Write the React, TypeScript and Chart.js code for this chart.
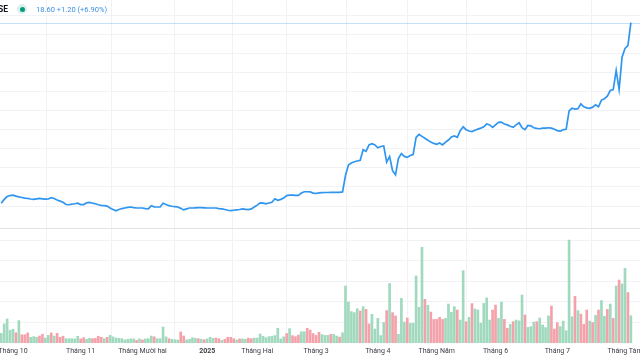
import React, { useEffect, useRef } from 'react';
import { Chart, registerables } from 'chart.js';

Chart.register(...registerables);

// ---- Data (one entry per trading session, index 0 = late Sept 2024, last = early Aug 2025) ----
const prices: number[] = [
  9.15, 9.35, 9.5, 9.55, 9.57, 9.52, 9.48, 9.45, 9.42, 9.4,
  9.37, 9.35, 9.38, 9.4, 9.38, 9.36, 9.37, 9.44, 9.4, 9.32,
  9.26, 9.2, 9.08, 9.07, 9.1, 9.12, 9.15, 9.08, 9.08, 9.17,
  9.19, 9.15, 9.12, 9.07, 9.04, 9.02, 9.0, 8.9, 8.82, 8.75,
  8.82, 8.87, 8.9, 8.93, 8.95, 8.92, 8.9, 8.9, 8.9, 8.87,
  8.85, 9.02, 8.96, 8.95, 8.95, 9.15, 9.08, 9.02, 8.99, 8.97,
  8.95, 8.88, 8.8, 8.85, 8.9, 8.9, 8.91, 8.92, 8.92, 8.91,
  8.9, 8.9, 8.9, 8.9, 8.87, 8.85, 8.82, 8.78, 8.76, 8.78,
  8.8, 8.82, 8.85, 8.83, 8.81, 8.85, 8.95, 9.05, 9.17, 9.15,
  9.12, 9.16, 9.2, 9.38, 9.3, 9.35, 9.42, 9.55, 9.57, 9.57,
  9.56, 9.56, 9.68, 9.75, 9.75, 9.74, 9.68, 9.66, 9.69, 9.7,
  9.71, 9.71, 9.72, 9.72, 9.72, 9.72, 9.74, 10.6, 11.15, 11.25,
  11.32, 11.36, 11.4, 11.95, 11.87, 12.2, 12.27, 12.2, 12.05, 12.12,
  12.15, 11.3, 11.6, 10.85, 10.63, 11.5, 11.75, 11.6, 11.55, 11.65,
  11.7, 12.6, 12.75, 12.65, 12.55, 12.45, 12.35, 12.28, 12.23, 12.3,
  12.2, 12.35, 12.46, 12.62, 12.67, 12.6, 12.95, 13.15, 13.0, 12.93,
  12.9, 12.97, 13.03, 13.08, 13.15, 13.3, 13.25, 13.12, 13.25, 13.38,
  13.4, 13.3, 13.25, 13.18, 13.12, 13.25, 13.36, 13.1, 13.0, 13.22,
  13.2, 13.1, 13.07, 13.05, 13.08, 13.08, 13.1, 13.08, 13.02, 12.95,
  12.92, 13.0, 13.02, 13.98, 14.12, 14.08, 14.1, 14.35, 14.2, 14.14,
  14.12, 14.18, 14.3, 14.2, 14.55, 14.62, 14.75, 15.05, 15.1, 16.1,
  15.1, 16.8, 17.25, 17.4, 18.6,
];

// volume in millions of shares (estimated)
const volumes: number[] = [
  0.47, 0.93, 1.17, 0.62, 0.67, 0.5, 1.09, 0.4, 0.4, 0.49,
  0.28, 0.31, 0.28, 0.34, 0.42, 0.24, 0.37, 0.49, 0.34, 0.47,
  0.28, 0.33, 0.21, 0.21, 0.21, 0.2, 0.33, 0.2, 0.26, 0.18,
  0.23, 0.21, 0.23, 0.33, 0.28, 0.21, 0.28, 0.37, 0.3, 0.24,
  0.23, 0.21, 0.15, 0.18, 0.2, 0.2, 0.13, 0.2, 0.15, 0.2,
  0.21, 0.34, 0.3, 0.21, 0.21, 0.78, 0.3, 0.21, 0.18, 0.16,
  0.15, 0.54, 0.34, 0.15, 0.18, 0.26, 0.23, 0.21, 0.18, 0.16,
  0.2, 0.28, 0.23, 0.24, 0.21, 0.13, 0.18, 0.28, 0.28, 0.21,
  0.15, 0.2, 0.2, 0.18, 0.24, 0.21, 0.24, 0.24, 0.44, 0.33,
  0.26, 0.31, 0.33, 0.36, 0.72, 0.2, 0.3, 0.46, 0.7, 0.36,
  0.31, 0.39, 0.55, 0.55, 0.72, 0.63, 0.46, 0.37, 0.52, 0.41,
  0.37, 0.37, 0.42, 0.42, 0.34, 0.29, 0.5, 2.78, 2.0, 1.53,
  1.48, 1.67, 1.56, 1.77, 1.64, 0.93, 1.4, 0.68, 1.2, 0.36,
  1.0, 1.58, 2.9, 1.48, 1.32, 0.42, 2.18, 1.02, 1.22, 0.96,
  0.96, 3.27, 1.74, 4.67, 2.13, 1.84, 1.51, 1.15, 1.15, 1.25,
  1.15, 1.2, 1.9, 1.5, 1.77, 1.61, 1.12, 3.53, 1.04, 1.25,
  1.92, 1.66, 1.61, 0.96, 1.93, 2.2, 1.12, 1.61, 1.85, 1.2,
  2.0, 1.15, 0.72, 0.91, 1.04, 1.12, 1.08, 2.34, 1.37, 0.76,
  0.8, 1.02, 1.04, 1.22, 0.88, 0.75, 1.32, 1.8, 0.68, 0.99,
  0.8, 1.07, 0.6, 5.02, 1.28, 2.28, 1.58, 1.41, 0.91, 1.61,
  1.07, 1.0, 1.35, 1.61, 2.07, 1.3, 1.64, 1.9, 1.2, 2.78,
  3.07, 2.88, 3.64, 2.46, 1.33,
];

// 1 = up session (green volume), 0 = down session (red volume)
const volumeUp: number[] = [
  1, 1, 1, 1, 1, 0, 1, 0, 0, 0,
  1, 1, 1, 0, 0, 1, 1, 0, 1, 0,
  0, 0, 1, 1, 1, 1, 1, 0, 0, 1,
  1, 0, 0, 0, 0, 1, 0, 1, 1, 1,
  1, 1, 1, 1, 1, 1, 0, 1, 0, 1,
  1, 1, 0, 1, 1, 1, 1, 0, 1, 1,
  1, 0, 0, 1, 1, 1, 1, 0, 1, 0,
  1, 1, 1, 0, 0, 1, 0, 0, 0, 0,
  1, 0, 1, 1, 0, 0, 1, 1, 1, 1,
  1, 1, 1, 1, 1, 1, 1, 0, 1, 0,
  0, 0, 1, 1, 0, 0, 0, 0, 0, 1,
  1, 1, 0, 1, 1, 0, 1, 1, 1, 1,
  1, 1, 0, 1, 0, 0, 1, 1, 1, 1,
  1, 0, 1, 0, 0, 1, 1, 1, 0, 1,
  1, 1, 1, 1, 0, 1, 0, 0, 0, 0,
  0, 1, 1, 1, 1, 0, 1, 1, 0, 1,
  0, 1, 1, 1, 1, 1, 1, 0, 0, 1,
  1, 0, 0, 1, 0, 1, 1, 1, 0, 1,
  1, 1, 0, 1, 1, 1, 1, 0, 0, 0,
  1, 1, 1, 1, 1, 0, 1, 0, 0, 0,
  1, 0, 1, 0, 1, 1, 0, 1, 0, 1,
  0, 1, 1, 0, 1,
];

const monthTickIndex: number[] = [4, 27, 48, 70, 87, 107, 128, 148, 168, 189, 212];
const monthTickLabels: string[] = [
  'Tháng 10', 'Tháng 11', 'Tháng Mười hai', '2025', 'Tháng Hai', 'Tháng 3',
  'Tháng 4', 'Tháng Năm', 'Tháng 6', 'Tháng 7', 'Tháng Tám',
];
const priceGridValues: number[] = [9, 10, 11, 12, 13, 14, 15, 16, 17, 18, 19];
const volumeGridValues: number[] = [1, 2, 3, 4, 5];
const paneSeparatorVolume = 5.59;

const headerSymbol = 'SE';
const headerQuote = '18.60 +1.20 (+6.90%)';

// ---- Styles ----
const LINE_BLUE = '#2f95ef';
const VOL_UP = '#a0d9bd';
const VOL_DOWN = '#f5a1aa';
const GRID = '#f1f2f5';
const FONT = 'Roboto, "Open Sans", sans-serif';

const lastPriceLine = {
  id: 'lastPriceLine',
  beforeDatasetsDraw(chart: any) {
    const { ctx, chartArea, scales } = chart;
    const y = Math.round(scales.yPrice.getPixelForValue(prices[prices.length - 1])) + 0.5;
    ctx.save();
    ctx.strokeStyle = 'rgba(47,149,239,0.28)';
    ctx.lineWidth = 1;
    ctx.beginPath();
    ctx.moveTo(chartArea.left, y);
    ctx.lineTo(chartArea.right, y);
    ctx.stroke();
    ctx.restore();
  },
};

export default function App() {
  const canvasRef = useRef<HTMLCanvasElement | null>(null);

  useEffect(() => {
    if (!canvasRef.current) return;
    const chart = new Chart(canvasRef.current, {
      type: 'bar',
      data: {
        datasets: [
          {
            type: 'line',
            data: prices.map((p, i) => ({ x: i, y: p })),
            yAxisID: 'yPrice',
            borderColor: LINE_BLUE,
            borderWidth: 1.7,
            pointRadius: 0,
            tension: 0,
            order: 0,
          } as any,
          {
            type: 'bar',
            data: volumes.map((v, i) => ({ x: i, y: v })),
            yAxisID: 'yVol',
            backgroundColor: volumeUp.map((u) => (u ? VOL_UP : VOL_DOWN)),
            barThickness: 2,
            order: 1,
          } as any,
        ],
      },
      options: {
        animation: false,
        responsive: false,
        maintainAspectRatio: false,
        layout: { padding: 0, autoPadding: false } as any,
        plugins: { legend: { display: false }, tooltip: { enabled: false } },
        scales: {
          x: {
            type: 'linear',
            min: -0.42,
            max: 217.1,
            offset: false,
            afterBuildTicks: (s: any) => {
              s.ticks = monthTickIndex.map((v) => ({ value: v }));
            },
            afterFit: (s: any) => {
              s.height = 17;
              s.paddingLeft = 0;
              s.paddingRight = 0;
            },
            ticks: {
              autoSkip: false,
              maxRotation: 0,
              padding: 4,
              color: '#3a3d45',
              font: (ctx: any) => ({
                family: FONT,
                size: 7,
                weight: monthTickLabels[ctx.index] === '2025' ? 'bold' : 'normal',
              }),
              callback: (_v: any, i: number) => monthTickLabels[i],
            },
            grid: { color: GRID, drawTicks: false },
            border: { display: false },
          },
          yPrice: {
            type: 'linear',
            position: 'right',
            min: 1.83,
            max: 19.79,
            afterBuildTicks: (s: any) => {
              s.ticks = priceGridValues.map((v) => ({ value: v }));
            },
            afterFit: (s: any) => {
              s.width = 0;
              s.paddingTop = 0;
              s.paddingBottom = 0;
            },
            ticks: { display: false },
            grid: { color: GRID, drawTicks: false },
            border: { display: false },
          },
          yVol: {
            type: 'linear',
            position: 'left',
            min: 0,
            max: 16.73,
            afterBuildTicks: (s: any) => {
              s.ticks = [...volumeGridValues, paneSeparatorVolume].map((v) => ({ value: v }));
            },
            afterFit: (s: any) => {
              s.width = 0;
              s.paddingTop = 0;
              s.paddingBottom = 0;
            },
            ticks: { display: false },
            grid: {
              color: (ctx: any) => (ctx.tick && ctx.tick.value === paneSeparatorVolume ? '#e2e3e7' : GRID),
              drawTicks: false,
            },
            border: { display: false },
          },
        },
      } as any,
      plugins: [lastPriceLine],
    });
    return () => chart.destroy();
  }, []);

  return (
    <div style={{ position: 'fixed', left: 0, top: 0, width: 640, height: 360, background: '#fff', overflow: 'hidden' }}>
      <canvas ref={canvasRef} width={640} height={360} style={{ display: 'block', width: 640, height: 360 }} />
      <div
        style={{
          position: 'absolute',
          left: -2,
          top: 3,
          height: 12,
          display: 'flex',
          alignItems: 'center',
          fontFamily: FONT,
          whiteSpace: 'nowrap',
        }}
      >
        <span style={{ fontSize: 8.5, fontWeight: 700, color: '#131722' }}>{headerSymbol}</span>
        <span
          style={{
            display: 'inline-block',
            width: 10,
            height: 10,
            borderRadius: 5,
            background: 'rgba(8,153,129,0.15)',
            marginLeft: 9,
            position: 'relative',
          }}
        >
          <span
            style={{
              position: 'absolute',
              left: 2.5,
              top: 2.5,
              width: 5,
              height: 5,
              borderRadius: 2.5,
              background: '#089981',
            }}
          />
        </span>
        <span style={{ fontSize: 7.5, color: '#3b8fe3', marginLeft: 9 }}>{headerQuote}</span>
      </div>
    </div>
  );
}
